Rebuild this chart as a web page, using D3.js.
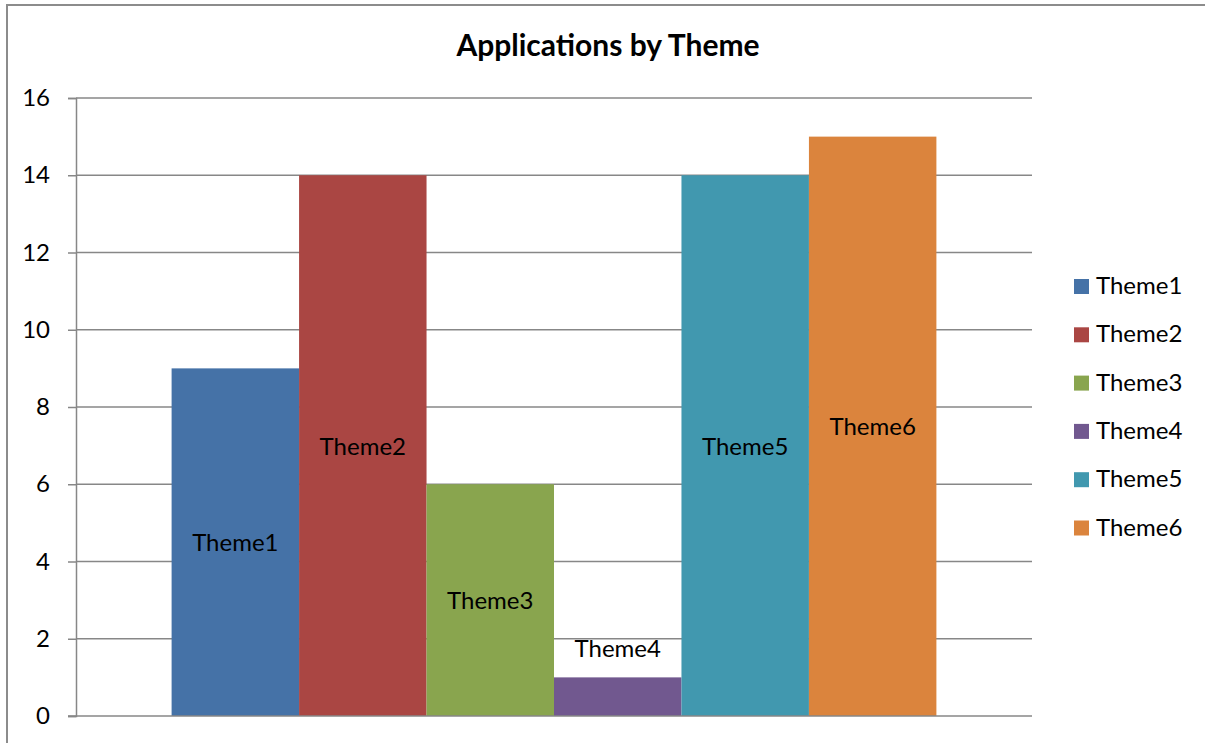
<!DOCTYPE html>
<html><head><meta charset="utf-8">
<script src="https://cdn.jsdelivr.net/npm/d3@7"></script>
<style>
html,body{margin:0;padding:0;background:#fff;}
svg{display:block;font-family:Lato,"Open Sans",sans-serif;}
</style></head>
<body>
<svg id="chart" width="1205" height="743"></svg>
<script>
const categories = ["Theme1","Theme2","Theme3","Theme4","Theme5","Theme6"];
const values = [9,14,6,1,14,15];
const colors = ["#4572A7","#AA4643","#89A54E","#71588F","#4198AF","#DB843D"];
const yTicks = [0,2,4,6,8,10,12,14,16];
const title = "Applications by Theme";

const svg = d3.select("#chart");
// outer frame
svg.append("rect").attr("x",7).attr("y",5).attr("width",1220).attr("height",760)
  .attr("fill","none").attr("stroke","#8c8c8c").attr("stroke-width",2);

const x0 = 76, x1 = 1032, yTop = 98, yBot = 716;
const y = d3.scaleLinear().domain([0,16]).range([yBot,yTop]);
const outer = d3.scaleBand().domain(["all"]).range([x0,x1]).paddingInner(0).paddingOuter(0.125);
const x = d3.scaleBand().domain(categories).range([outer("all"), outer("all")+outer.bandwidth()]).padding(0);

// gridlines
svg.append("g").selectAll("line").data(yTicks.filter(d=>d>0)).join("line")
  .attr("x1",x0).attr("x2",x1).attr("y1",d=>y(d)).attr("y2",d=>y(d))
  .attr("stroke","#878787").attr("stroke-width",1.5);

// bars
svg.append("g").selectAll("rect").data(categories).join("rect")
  .attr("x",d=>x(d)).attr("width",x.bandwidth())
  .attr("y",(d,i)=>y(values[i])).attr("height",(d,i)=>y(0)-y(values[i]))
  .attr("fill",(d,i)=>colors[i]);

// y axis
const yAxis = d3.axisLeft(y).tickValues(yTicks).tickSize(8).tickPadding(18).tickFormat(d3.format("d"));
const ga = svg.append("g").attr("transform",`translate(${x0},0)`).call(yAxis);
ga.select(".domain").attr("stroke","#878787").attr("stroke-width",1.5);
ga.selectAll(".tick line").attr("stroke","#878787").attr("stroke-width",1.5);
ga.selectAll(".tick text").attr("font-size",24).attr("fill","#000").attr("font-family","Lato,'Open Sans',sans-serif");
// baseline
svg.append("line").attr("x1",x0-8).attr("x2",x1).attr("y1",y(0)).attr("y2",y(0))
  .attr("stroke","#878787").attr("stroke-width",1.5);

// data labels
svg.append("g").selectAll("text").data(categories).join("text")
  .attr("x",d=>x(d)+x.bandwidth()/2)
  .attr("y",(d,i)=> values[i] < 2 ? y(values[i]) - 20 : (y(values[i])+y(0))/2 + 9)
  .attr("text-anchor","middle").attr("font-size",24).attr("fill","#000")
  .text(d=>d);

// title
svg.append("text").attr("x",608).attr("y",56).attr("text-anchor","middle")
  .attr("font-size",30).attr("font-weight","bold").attr("fill","#000").text(title);

// legend
const lg = svg.append("g").selectAll("g").data(categories).join("g")
  .attr("transform",(d,i)=>`translate(1074,${279 + i*48.3})`);
lg.append("rect").attr("width",15).attr("height",15).attr("fill",(d,i)=>colors[i]);
lg.append("text").attr("x",22).attr("y",15).attr("font-size",24).attr("fill","#000").text(d=>d);
</script>
</body></html>
